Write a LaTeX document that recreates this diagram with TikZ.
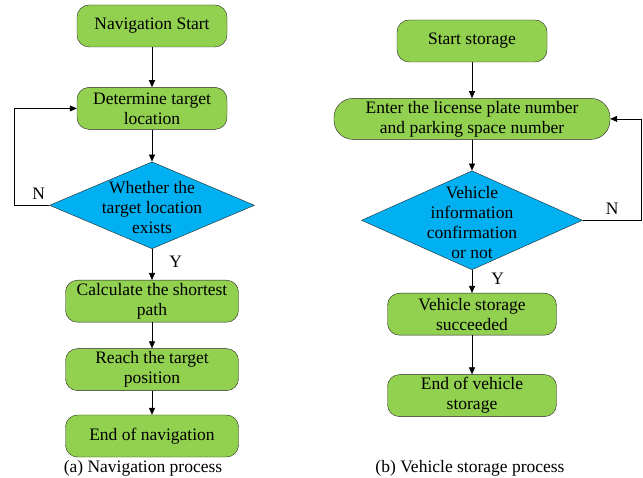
\documentclass[tikz,border=0pt]{standalone}
\usepackage{fontspec}
\setmainfont{Liberation Serif}
\usetikzlibrary{
	arrows.meta,
	positioning,
	shapes.geometric
}
\definecolor{verdepasso}{HTML}{92D050}
\definecolor{azuldecisao}{HTML}{00B0F0}
\newcommand{\textodecisao}[1]{\raisebox{-9pt}[0pt][0pt]{\makebox[0pt]{\begin{tabular}{@{}c@{}}#1\end{tabular}}}}

\begin{document}
\begin{tikzpicture}[
			x=1pt, y=1pt,
			font=\fontsize{17.5}{20}\selectfont,
			passo/.style={draw=black!85, fill=verdepasso, rounded corners=12pt, minimum width=150pt, minimum height=42pt, inner sep=1pt, align=center},
			decisao/.style={diamond, draw=black!85, fill=azuldecisao, inner sep=0pt},
			rotulo/.style={inner sep=1pt},
			>={Triangle[length=7pt, width=6pt]},
			fl/.style={->, semithick}
		]
		\useasboundingbox (0,0) rectangle (643,-478);

		% (a) navegacao
		\node[passo] (a1) at (152,-26) {Navigation Start};
		\node[passo, below=40pt of a1] (a2) {Determine target\\ location};
		\node[decisao, minimum width=205pt, minimum height=87pt, below=32pt of a2] (a3) {\textodecisao{Whether the\\ target location\\ exists}};
		\node[passo, minimum width=173pt, below=31pt of a3] (a4) {Calculate the shortest\\ path};
		\node[passo, minimum width=173pt, below=26pt of a4] (a5) {Reach the target\\ position};
		\node[passo, minimum width=173pt, below=24pt of a5] (a6) {End of navigation};
		\node[rotulo] (capa) at (143,-468) {(a) Navigation process};

		\draw[fl] (a1) -- (a2);
		\draw[fl] (a2) -- (a3);
		\draw[fl] (a3) -- node[rotulo, right=16pt, pos=0.4] {Y} (a4);
		\draw[fl] (a4) -- (a5);
		\draw[fl] (a5) -- (a6);
		\draw[fl] (a3.west) -- node[rotulo, above=4pt, pos=0.3] {N} ++(-35,0) |- (a2.west);

		% (b) armazenamento
		\node[passo] (b1) at (472,-41) {Start storage};
		\node[passo, minimum width=276pt, minimum height=41pt, rounded corners=19pt, below=36pt of b1] (b2) {Enter the license plate number\\ and parking space number};
		\node[decisao, minimum width=221pt, minimum height=99pt, below=31pt of b2] (b3) {\textodecisao{Vehicle\\ information\\ confirmation\\ or not}};
		\node[passo, minimum width=169pt, below=23pt of b3] (b4) {Vehicle storage\\ succeeded};
		\node[passo, minimum width=169pt, below=39pt of b4] (b5) {End of vehicle\\ storage};
		\node[rotulo] (capb) at (470,-468) {(b) Vehicle storage process};

		\draw[fl] (b1) -- (b2);
		\draw[fl] (b2) -- (b3);
		\draw[fl] (b3) -- node[rotulo, right=18pt, pos=0.4] {Y} (b4);
		\draw[fl] (b4) -- (b5);
		\draw[fl] (b3.east) -- node[rotulo, above=4pt, pos=0.5] {N} ++(59,0) |- (b2.east);
	\end{tikzpicture}
\end{document}
